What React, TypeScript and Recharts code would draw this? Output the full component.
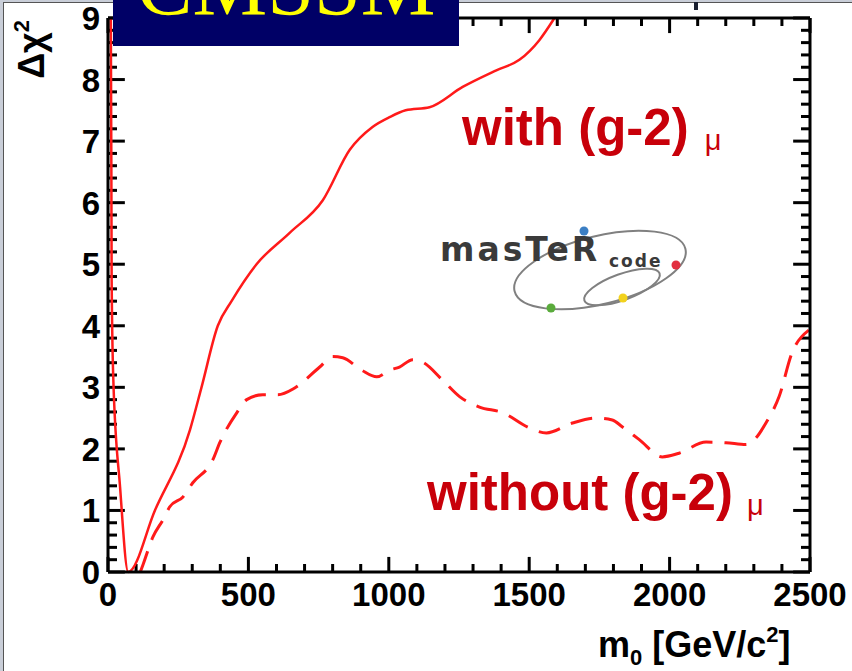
import React from "react";
import { LineChart, Line, XAxis, YAxis, ReferenceLine } from "recharts";

// m0 [GeV/c^2] vs Delta chi^2
const withG2X = [10, 12, 13, 19, 43, 72, 167, 292, 333, 391, 440, 529, 647, 765, 861, 942, 1003, 1060, 1145, 1263, 1383, 1465, 1536, 1590];
const withG2Y = [9.0, 6.5, 4.74, 3.12, 1.38, 0, 1.0, 2.31, 3.0, 4.0, 4.4, 5.0, 5.51, 6.04, 6.86, 7.23, 7.39, 7.5, 7.55, 7.88, 8.15, 8.32, 8.64, 9.0];

const withoutG2X = [115, 124, 160, 196, 220, 267, 302, 373, 398, 459, 494, 551, 605, 665, 754, 800, 836, 903, 957, 1003, 1038, 1085, 1120, 1191, 1252, 1323, 1405, 1501, 1561, 1654, 1739, 1796, 1831, 1892, 1974, 2034, 2130, 2201, 2272, 2308, 2343, 2390, 2436, 2496];
const withoutG2Y = [0, 0.11, 0.57, 0.85, 1.06, 1.22, 1.45, 1.82, 2.10, 2.59, 2.80, 2.88, 2.88, 2.99, 3.33, 3.50, 3.48, 3.28, 3.17, 3.28, 3.33, 3.45, 3.41, 3.12, 2.85, 2.68, 2.59, 2.34, 2.26, 2.42, 2.50, 2.47, 2.36, 2.15, 1.87, 1.93, 2.11, 2.10, 2.07, 2.18, 2.42, 2.85, 3.56, 3.93];

const xTicks = [0, 100, 200, 300, 400, 500, 600, 700, 800, 900, 1000, 1100, 1200, 1300, 1400, 1500, 1600, 1700, 1800, 1900, 2000, 2100, 2200, 2300, 2400, 2500];
const xMajor = [0, 500, 1000, 1500, 2000, 2500];
const yTicks = Array.from({ length: 46 }, (_, i) => Math.round(i * 2) / 10);
const yMajor = [0, 1, 2, 3, 4, 5, 6, 7, 8, 9];

const withData = withG2X.map((x, i) => ({ x, y: withG2Y[i] }));
const withoutData = withoutG2X.map((x, i) => ({ x, y: withoutG2Y[i] }));

const FONT = "'Liberation Sans', Arial, Helvetica, sans-serif";
const LABEL_RED = "#c8000a";
const LINE_RED = "#ff1a1a";

// tick mark lengths expressed in axis units (inward-pointing ROOT style ticks)
const X_TICK_MAJOR = 0.245; // in Δχ² units
const X_TICK_MINOR = 0.13;
const Y_TICK_MAJOR = 60; // in m0 units
const Y_TICK_MINOR = 32;

const isMajorY = (v: number) => yMajor.some((m) => Math.abs(m - v) < 1e-6);

const renderBottomTick = (p: any) => {
  const { x, y, payload, index } = p;
  const v = payload.value;
  const major = xMajor.includes(v);
  return (
    <g key={`b-${index}`}>
      {major && (
        <text x={x} y={y + 34} textAnchor="middle" fontFamily={FONT} fontWeight="bold" fontSize={33} fill="#000">
          {v}
        </text>
      )}
    </g>
  );
};

const renderLeftTick = (p: any) => {
  const { x, y, payload, index } = p;
  const v = payload.value;
  const major = isMajorY(v);
  return (
    <g key={`l-${index}`}>
      {major && (
        <text x={x - 8} y={y + 12} textAnchor="end" fontFamily={FONT} fontWeight="bold" fontSize={33} fill="#000">
          {Math.round(v)}
        </text>
      )}
    </g>
  );
};

const renderEmptyTick = (p: any) => <g key={`e-${p.index}`} />;

export default function App() {
  return (
    <div style={{ position: "absolute", left: 0, top: 0, width: 852, height: 671, overflow: "hidden", background: "#fff" }}>
      <LineChart width={852} height={671} margin={{ top: 17, right: 41, bottom: 0, left: 0 }}>
        <XAxis
          xAxisId="b"
          type="number"
          dataKey="x"
          domain={[0, 2500]}
          ticks={xTicks}
          interval={0}
          height={99}
          tickSize={0}
          tickMargin={0}
          tickLine={false}
          axisLine={{ stroke: "#000", strokeWidth: 3 }}
          tick={renderBottomTick}
        />
        <XAxis
          xAxisId="t"
          orientation="top"
          type="number"
          dataKey="x"
          domain={[0, 2500]}
          ticks={xTicks}
          interval={0}
          height={1}
          tickSize={0}
          tickMargin={0}
          tickLine={false}
          axisLine={{ stroke: "#000", strokeWidth: 3 }}
          tick={renderEmptyTick}
        />
        <YAxis
          yAxisId="l"
          type="number"
          domain={[0, 9]}
          ticks={yTicks}
          interval={0}
          width={108}
          tickSize={0}
          tickMargin={0}
          tickLine={false}
          axisLine={{ stroke: "#000", strokeWidth: 3 }}
          tick={renderLeftTick}
        />
        <YAxis
          yAxisId="r"
          orientation="right"
          type="number"
          domain={[0, 9]}
          ticks={yTicks}
          interval={0}
          width={1}
          tickSize={0}
          tickMargin={0}
          tickLine={false}
          axisLine={{ stroke: "#000", strokeWidth: 3 }}
          tick={renderEmptyTick}
        />
        {/* inward tick marks on all four sides */}
        {xTicks.map((v) => {
          const len = xMajor.includes(v) ? X_TICK_MAJOR : X_TICK_MINOR;
          return (
            <ReferenceLine
              key={`xb-${v}`}
              xAxisId="b"
              yAxisId="l"
              segment={[{ x: v, y: 0 }, { x: v, y: len }]}
              stroke="#000"
              strokeWidth={3}
              ifOverflow="visible"
            />
          );
        })}
        {xTicks.map((v) => {
          const len = xMajor.includes(v) ? X_TICK_MAJOR : X_TICK_MINOR;
          return (
            <ReferenceLine
              key={`xt-${v}`}
              xAxisId="b"
              yAxisId="l"
              segment={[{ x: v, y: 9 }, { x: v, y: 9 - len }]}
              stroke="#000"
              strokeWidth={3}
              ifOverflow="visible"
            />
          );
        })}
        {yTicks.map((v) => {
          const len = isMajorY(v) ? Y_TICK_MAJOR : Y_TICK_MINOR;
          return (
            <ReferenceLine
              key={`yl-${v}`}
              xAxisId="b"
              yAxisId="l"
              segment={[{ x: 0, y: v }, { x: len, y: v }]}
              stroke="#000"
              strokeWidth={3}
              ifOverflow="visible"
            />
          );
        })}
        {yTicks.map((v) => {
          const len = isMajorY(v) ? Y_TICK_MAJOR : Y_TICK_MINOR;
          return (
            <ReferenceLine
              key={`yr-${v}`}
              xAxisId="b"
              yAxisId="l"
              segment={[{ x: 2500, y: v }, { x: 2500 - len, y: v }]}
              stroke="#000"
              strokeWidth={3}
              ifOverflow="visible"
            />
          );
        })}
        {/* invisible series so the mirrored top/right frame axes are active */}
        <Line
          xAxisId="t"
          yAxisId="r"
          data={withoutData}
          dataKey="y"
          stroke="transparent"
          strokeWidth={0}
          dot={false}
          activeDot={false}
          legendType="none"
          isAnimationActive={false}
        />
        <Line
          xAxisId="b"
          yAxisId="l"
          data={withoutData}
          dataKey="y"
          type="monotone"
          stroke={LINE_RED}
          strokeWidth={3}
          strokeDasharray="22 12"
          dot={false}
          activeDot={false}
          isAnimationActive={false}
        />
        <Line
          xAxisId="b"
          yAxisId="l"
          data={withData}
          dataKey="y"
          type="monotone"
          stroke={LINE_RED}
          strokeWidth={2.5}
          dot={false}
          activeDot={false}
          isAnimationActive={false}
        />
      </LineChart>
      <svg width={852} height={671} style={{ position: "absolute", left: 0, top: 0, pointerEvents: "none" }}>
        {/* outer frame of the slide */}
        <rect x={0} y={0} width={852} height={2} fill="#c9ced8" />
        <rect x={0} y={0} width={3} height={671} fill="#c9ced8" />
        <line x1={3} x2={852} y1={2.5} y2={2.5} stroke="#555" strokeWidth={1} />
        <line x1={3.5} x2={3.5} y1={2} y2={671} stroke="#555" strokeWidth={1} />
        <rect x={694} y={2} width={4} height={8} fill="#1a2030" />

        {/* title box */}
        <rect x={113} y={-10} width={346} height={56} fill="#000066" />
        <text x={286} y={15} textAnchor="middle" fontFamily="'Liberation Serif', 'Times New Roman', serif" fontSize={84} fill="#ffff00">
          CMSSM
        </text>

        {/* axis titles */}
        <text
          transform="translate(44,20) rotate(-90)"
          textAnchor="end"
          fontFamily={FONT}
          fontWeight="bold"
          fontSize={36}
          fill="#000"
        >
          Δχ<tspan fontSize={22} dy={-15}>2</tspan>
        </text>
        <text x={598} y={657} fontFamily={FONT} fontWeight="bold" fontSize={36} fill="#000">
          m<tspan fontSize={22} dy={8}>0</tspan>
          <tspan dy={-8}> [GeV/c</tspan>
          <tspan fontSize={22} dy={-15}>2</tspan>
          <tspan dy={15}>]</tspan>
        </text>

        {/* curve labels */}
        <text x={462} y={145} fontFamily={FONT} fontWeight="bold" fontSize={51} fill={LABEL_RED}>
          with (g-2)
          <tspan fontSize={29} fontWeight="normal" dx={16} dy={5}>μ</tspan>
        </text>
        <text x={427} y={510} fontFamily={FONT} fontWeight="bold" fontSize={51} fill={LABEL_RED}>
          without (g-2)
          <tspan fontSize={29} fontWeight="normal" dx={14} dy={5}>μ</tspan>
        </text>

        {/* MasterCode logo */}
        <g>
          <ellipse cx={600} cy={270} rx={88} ry={34} transform="rotate(-14 600 270)" fill="none" stroke="#808080" strokeWidth={2} />
          <ellipse cx={622} cy={287} rx={40} ry={13} transform="rotate(-20 622 287)" fill="none" stroke="#808080" strokeWidth={2} />
          <text x={440} y={261} fontFamily="'DejaVu Sans', sans-serif" fontWeight="bold" fontSize={33} letterSpacing={3} fill="#3a3a3a">
            masTeR
          </text>
          <text x={609} y={267} fontFamily="'DejaVu Sans', sans-serif" fontWeight="bold" fontSize={17} letterSpacing={2} fill="#3a3a3a">
            code
          </text>
          <circle cx={584} cy={231} r={4.5} fill="#3b7fc4" />
          <circle cx={676} cy={265} r={4.5} fill="#e23040" />
          <circle cx={551} cy={308} r={4.5} fill="#5aab3c" />
          <circle cx={623} cy={298} r={4.5} fill="#f2d21e" />
        </g>
      </svg>
    </div>
  );
}
